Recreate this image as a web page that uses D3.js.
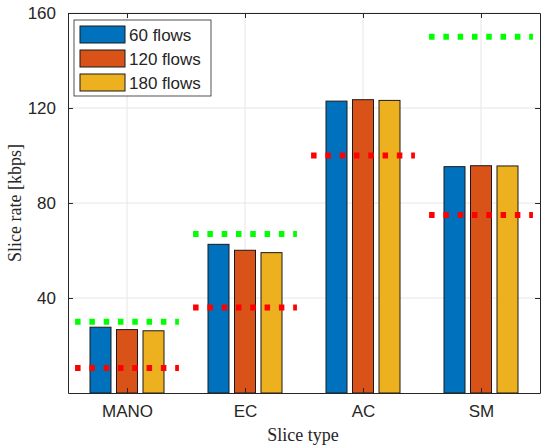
<!DOCTYPE html>
<meta charset="utf-8">
<script src="https://cdn.jsdelivr.net/npm/d3@7"></script>
<style>
body { margin: 0; background: #fff; }
text { font-family: "Liberation Sans", Arial, Helvetica, sans-serif; fill: #262626; }
.serif { font-family: "Liberation Serif", "DejaVu Serif", serif; }
</style>
<body>
<script>
// slice types and flow counts
var categories = ["MANO", "EC", "AC", "SM"];
var series = ["60 flows", "120 flows", "180 flows"];
var rate60  = [27.7, 62.6, 122.9, 95.3];
var rate120 = [26.7, 60.1, 123.5, 95.7];
var rate180 = [26.2, 59.1, 123.2, 95.6];
// dotted reference levels per slice
var upperLevel = [30, 67, null, 150];
var lowerLevel = [10.5, 36, 100, 75];
var yTicks = [40, 80, 120, 160];

var colors = ["#0072BD", "#D95319", "#EDB120"];

var margin = {top: 13, right: 2, bottom: 52, left: 68},
    width = 542 - margin.left - margin.right,
    height = 445 - margin.top - margin.bottom;

var svg = d3.select("body").append("svg")
    .attr("width", 542)
    .attr("height", 445)
  .append("g")
    .attr("transform", "translate(" + margin.left + "," + margin.top + ")");

var x = d3.scaleLinear().domain([0.5, 4.5]).range([0, width]);
var y = d3.scaleLinear().domain([0, 160]).range([height, 0]);

// grid
svg.selectAll(".gx").data(categories).enter().append("line")
    .attr("x1", function(d, i) { return x(i + 1); })
    .attr("x2", function(d, i) { return x(i + 1); })
    .attr("y1", 0).attr("y2", height)
    .attr("stroke", "#e6e6e6").attr("stroke-width", 1);
svg.selectAll(".gy").data(yTicks).enter().append("line")
    .attr("x1", 0).attr("x2", width)
    .attr("y1", function(d) { return y(d); })
    .attr("y2", function(d) { return y(d); })
    .attr("stroke", "#e6e6e6").attr("stroke-width", 1);

// bars
var rows = [rate60, rate120, rate180];
var barW = 21, step = 26.5;
rows.forEach(function(vals, s) {
  svg.selectAll(".bar" + s).data(vals).enter().append("rect")
      .attr("x", function(d, i) { return x(i + 1) + (s - 1) * step - barW / 2; })
      .attr("y", function(d) { return y(d); })
      .attr("width", barW)
      .attr("height", function(d) { return y(0) - y(d); })
      .attr("fill", colors[s])
      .attr("stroke", "#1a1a1a")
      .attr("stroke-width", 1);
});

// dotted levels
function levelLine(vals, col) {
  svg.selectAll(null).data(vals.map(function(v, i) { return {v: v, i: i}; })
      .filter(function(d) { return d.v != null; }))
    .enter().append("line")
      .attr("x1", function(d) { return x(d.i + 1 - 0.44); })
      .attr("x2", function(d) { return x(d.i + 1 + 0.44); })
      .attr("y1", function(d) { return y(d.v); })
      .attr("y2", function(d) { return y(d.v); })
      .attr("stroke", col)
      .attr("stroke-width", 6)
      .attr("stroke-dasharray", "5.5,8.8");
}
levelLine(upperLevel, "#00FF00");
levelLine(lowerLevel, "#FF0000");

// axes box
var xAxis = d3.axisBottom(x).tickValues([1, 2, 3, 4])
    .tickFormat(function(d) { return categories[d - 1]; })
    .tickSizeInner(-5).tickSizeOuter(0).tickPadding(12);
var xTop = d3.axisTop(x).tickValues([1, 2, 3, 4]).tickFormat("")
    .tickSizeInner(-5).tickSizeOuter(0);
var yAxis = d3.axisLeft(y).tickValues(yTicks)
    .tickSizeInner(-5).tickSizeOuter(0).tickPadding(12);
var yRight = d3.axisRight(y).tickValues(yTicks).tickFormat("")
    .tickSizeInner(-5).tickSizeOuter(0);

svg.append("g").attr("transform", "translate(0," + height + ")").call(xAxis);
svg.append("g").call(xTop);
svg.append("g").call(yAxis);
svg.append("g").attr("transform", "translate(" + width + ",0)").call(yRight);

svg.selectAll(".domain").attr("stroke", "#262626").attr("stroke-width", 1);
svg.selectAll(".tick line").attr("stroke", "#262626");
svg.selectAll(".tick text").style("font-size", "17px").attr("fill", "#262626")
    .style("font-family", "'Liberation Sans', Arial, sans-serif");

// titles
svg.append("text")
    .attr("class", "serif")
    .attr("x", width / 2 - 1)
    .attr("y", height + 48)
    .attr("text-anchor", "middle")
    .style("font-size", "18px")
    .text("Slice type");

svg.append("text")
    .attr("class", "serif")
    .attr("transform", "rotate(-90)")
    .attr("x", -(y(80)) )
    .attr("y", -47)
    .attr("text-anchor", "middle")
    .style("font-size", "18px")
    .text("Slice rate [kbps]");

// legend
var legend = svg.append("g").attr("transform", "translate(6,7)");
legend.append("rect")
    .attr("width", 137).attr("height", 76)
    .attr("fill", "#fff").attr("stroke", "#262626").attr("stroke-width", 0.8);
var items = legend.selectAll(".item").data(series).enter().append("g")
    .attr("transform", function(d, i) { return "translate(6," + (6 + i * 24) + ")"; });
items.append("rect")
    .attr("width", 45).attr("height", 17)
    .attr("fill", function(d, i) { return colors[i]; })
    .attr("stroke", "#1a1a1a").attr("stroke-width", 1);
items.append("text")
    .attr("x", 49).attr("y", 15)
    .style("font-size", "17px")
    .text(function(d) { return d; });
</script>
</body>
